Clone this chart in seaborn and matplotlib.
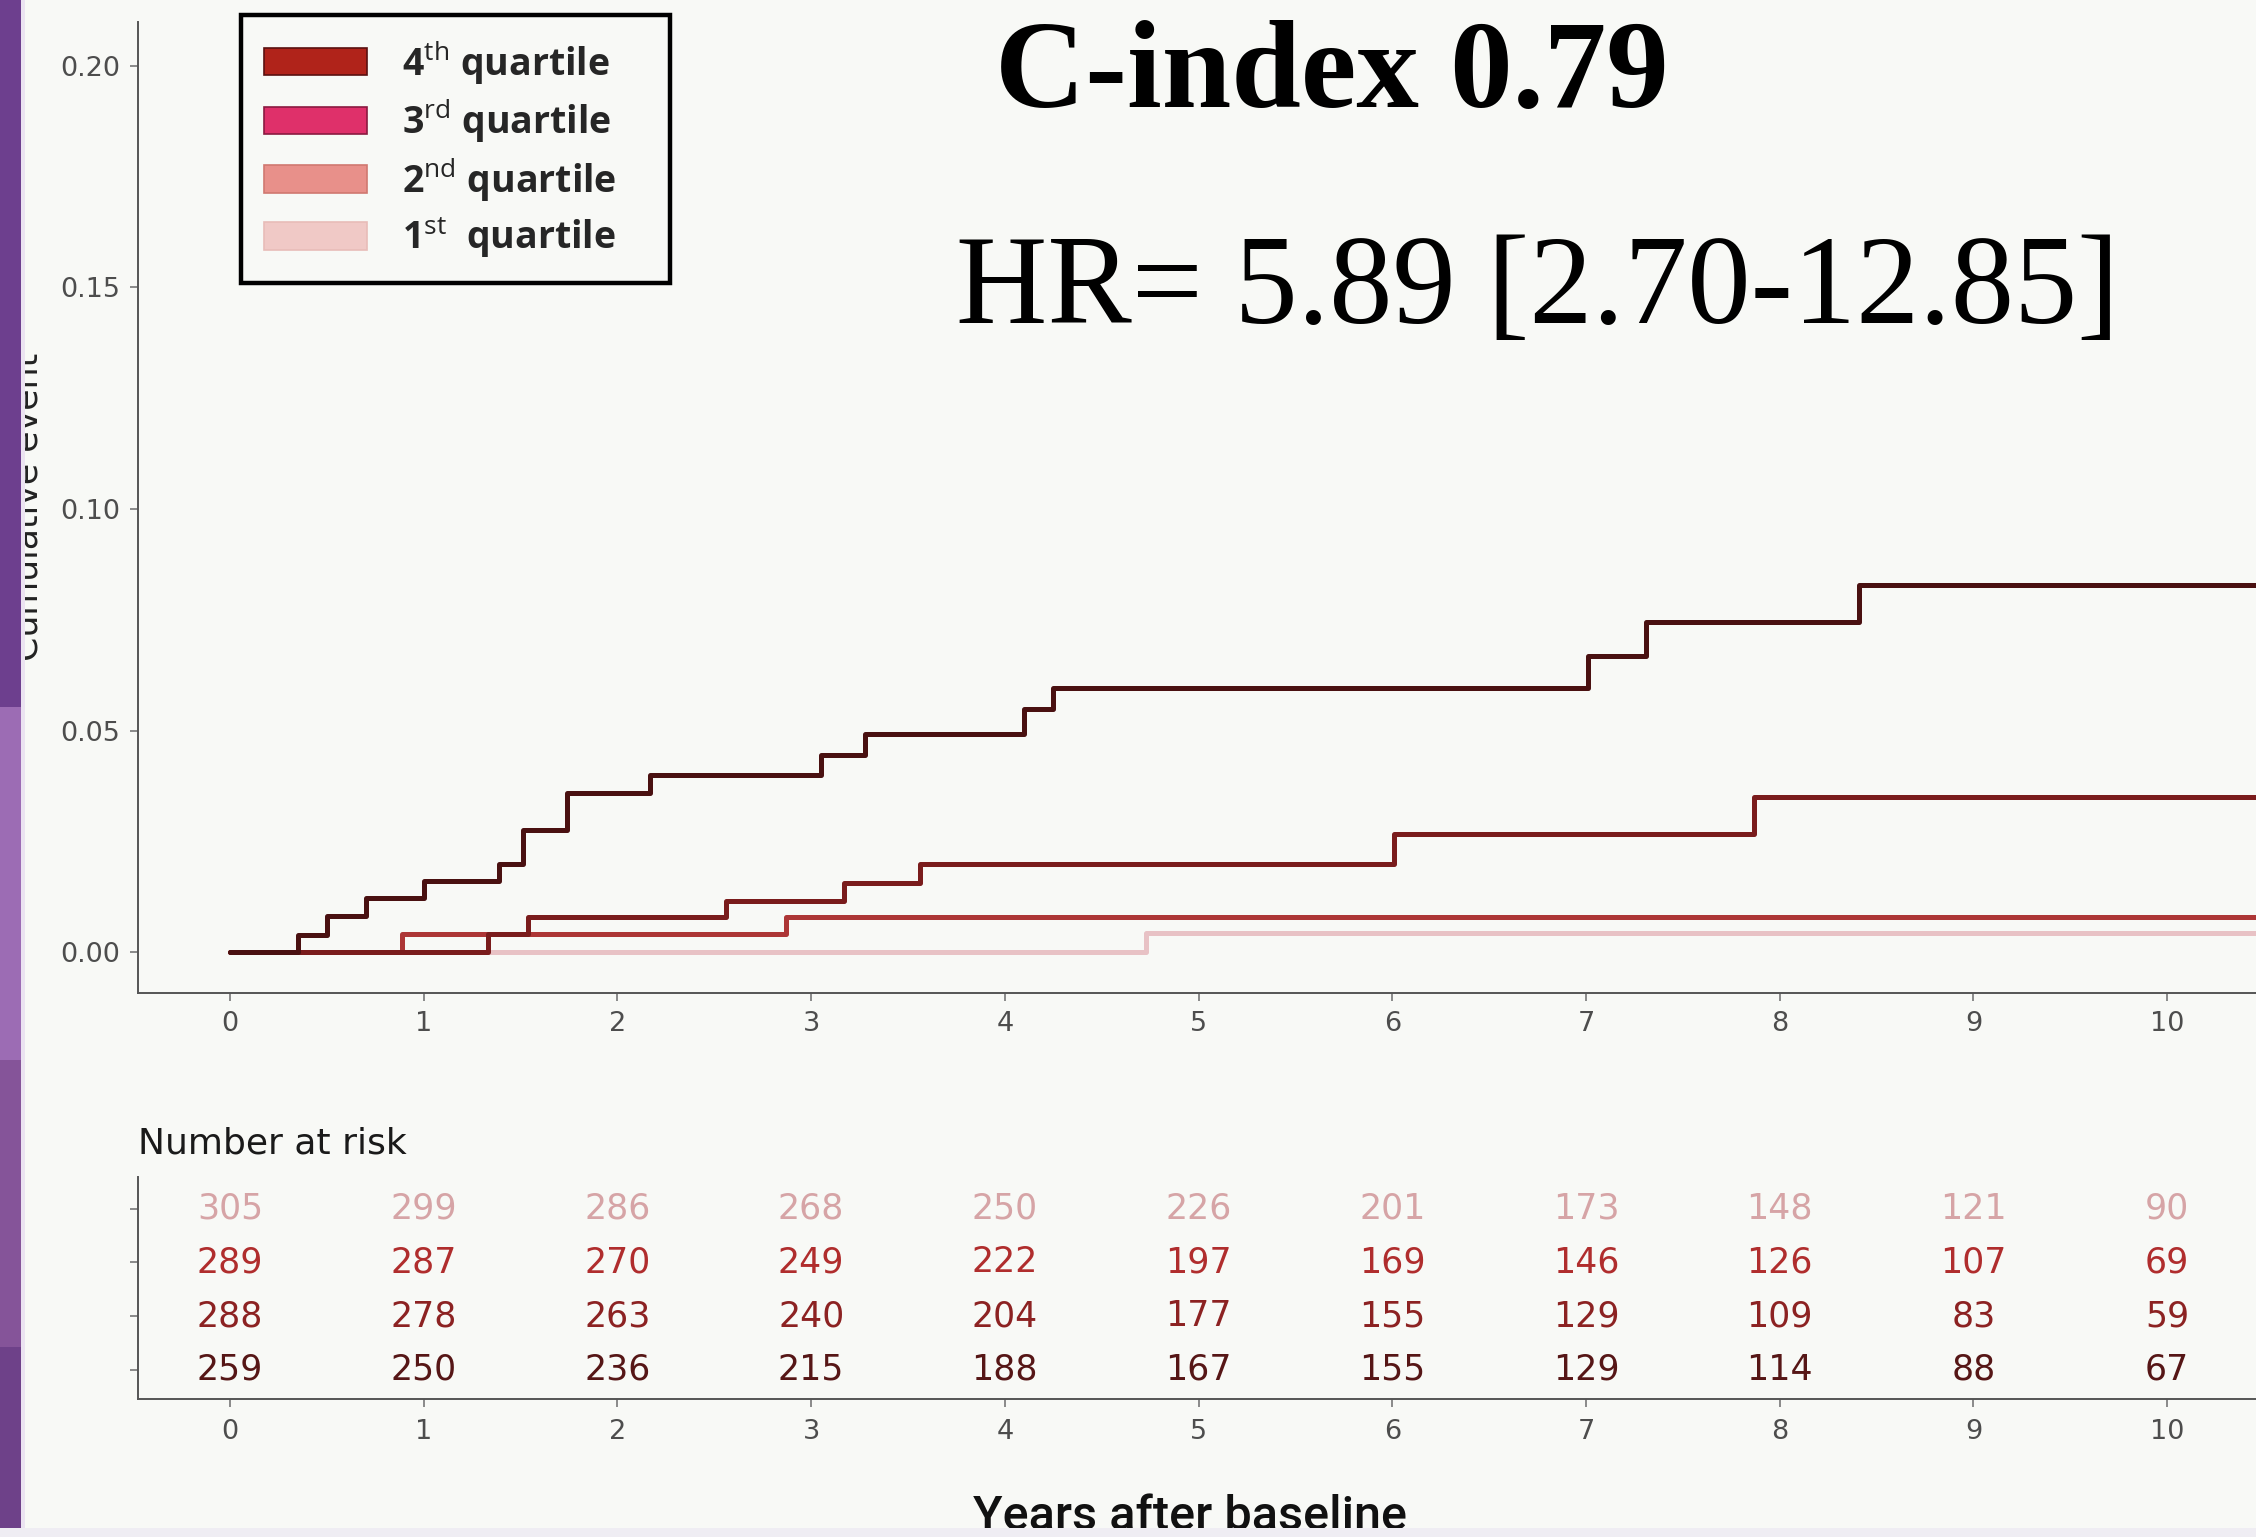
import numpy as np
import pandas as pd
import matplotlib
matplotlib.use("Agg")
import matplotlib.pyplot as plt
from matplotlib.patches import Patch, Rectangle
from matplotlib.ticker import FormatStrFormatter
import seaborn as sns

# ---------------- data ----------------
quartiles = ["1st quartile", "2nd quartile", "3rd quartile", "4th quartile"]
legend_labels = {
    "4th quartile": "4$^{\\rm th}$ quartile",
    "3rd quartile": "3$^{\\rm rd}$ quartile",
    "2nd quartile": "2$^{\\rm nd}$ quartile",
    "1st quartile": "1$^{\\rm st}$  quartile",
}

years_q4 = [0, 0.35, 0.50, 0.70, 1.00, 1.39, 1.51, 1.74, 2.17, 3.05, 3.28, 4.10, 4.25, 7.01, 7.31, 8.41]
cum_q4 = [0, 0.0040, 0.0083, 0.0122, 0.0160, 0.0199, 0.0275, 0.0360, 0.0400, 0.0446, 0.0493, 0.0548, 0.0596, 0.0668, 0.0746, 0.0828]
years_q3 = [0, 1.33, 1.54, 2.56, 3.17, 3.56, 6.01, 7.87]
cum_q3 = [0, 0.0042, 0.0079, 0.0115, 0.0156, 0.0199, 0.0266, 0.0350]
years_q2 = [0, 0.89, 2.87]
cum_q2 = [0, 0.0041, 0.0081]
years_q1 = [0, 4.73]
cum_q1 = [0, 0.0044]
follow_up_end = 10.6

risk_times = [0, 1, 2, 3, 4, 5, 6, 7, 8, 9, 10]
risk_q1 = [305, 299, 286, 268, 250, 226, 201, 173, 148, 121, 90]
risk_q2 = [289, 287, 270, 249, 222, 197, 169, 146, 126, 107, 69]
risk_q3 = [288, 278, 263, 240, 204, 177, 155, 129, 109, 83, 59]
risk_q4 = [259, 250, 236, 215, 188, 167, 155, 129, 114, 88, 67]

y_ticks = [0.00, 0.05, 0.10, 0.15, 0.20]

c_index_text = "C-index 0.79"
hr_text = "HR= 5.89 [2.70-12.85]"

# ---------------- styles ----------------
line_colors = {"4th quartile": "#4a1111", "3rd quartile": "#7a1c1c",
               "2nd quartile": "#ad3636", "1st quartile": "#e8c2c5"}
patch_colors = {"4th quartile": ("#b0231a", "#5a1010"), "3rd quartile": ("#df306a", "#8a1a40"),
                "2nd quartile": ("#e8908a", "#d07870"), "1st quartile": ("#f0c9c6", "#e8bcb8")}
risk_colors = {"1st quartile": "#d6a4a6", "2nd quartile": "#b02d2d",
               "3rd quartile": "#8c2222", "4th quartile": "#561616"}
bg = "#f8f9f6"
grey = "#4d4d4d"

sns.set_style("ticks")
plt.rcParams["font.family"] = ["DejaVu Sans"]
plt.rcParams["mathtext.fontset"] = "custom"
plt.rcParams["mathtext.rm"] = "Open Sans"

frames = []
for q, t, v in [("1st quartile", years_q1, cum_q1), ("2nd quartile", years_q2, cum_q2),
                ("3rd quartile", years_q3, cum_q3), ("4th quartile", years_q4, cum_q4)]:
    frames.append(pd.DataFrame({"years": list(t) + [follow_up_end],
                                "cum": list(v) + [v[-1]], "quartile": q}))
df = pd.concat(frames, ignore_index=True)

fig = plt.figure(figsize=(22.56, 15.37), dpi=100, facecolor=bg)
W, H = 2256.0, 1537.0
ax = fig.add_axes([138 / W, 1 - 992.8 / H, (W - 138) / W, (992.8 - 21.6) / H])
ax_t = fig.add_axes([138 / W, 1 - 1398.5 / H, (W - 138) / W, (1398.5 - 1177) / H])
for a in (ax, ax_t):
    a.set_facecolor(bg)

sns.lineplot(data=df, x="years", y="cum", hue="quartile", hue_order=quartiles,
             palette=line_colors, drawstyle="steps-post", estimator=None,
             linewidth=3.6, legend=False, ax=ax)

xlim = (-0.475, 10.459)
ax.set_xlim(*xlim)
ax.set_ylim(-0.0091, 0.2099)
ax.set_xticks(risk_times)
ax.set_yticks(y_ticks)
ax.yaxis.set_major_formatter(FormatStrFormatter("%.2f"))
ax.set_xlabel("")
ax.set_ylabel("Cumulative event", fontsize=25, color="#222222")
ax.yaxis.set_label_coords(-0.044, 0.5)
sns.despine(ax=ax)
for s in ("left", "bottom"):
    ax.spines[s].set_color("#555555")
    ax.spines[s].set_linewidth(1.4)
ax.tick_params(axis="both", colors="#777777", labelcolor=grey, labelsize=19.5,
               length=6, width=1.2, pad=7)

# legend (fixed-width box)
handles = [Patch(facecolor=patch_colors[q][0], edgecolor=patch_colors[q][1], linewidth=1.2)
           for q in quartiles[::-1]]
leg = ax.legend(handles, [legend_labels[q] for q in quartiles[::-1]],
                loc="upper left", bbox_to_anchor=(241 / W, 1 - 278 / H, 429 / W, 263 / H),
                bbox_transform=fig.transFigure, borderaxespad=0, mode="expand",
                prop={"family": "Open Sans", "weight": "bold", "size": 27},
                handlelength=2.75, handleheight=0.75, handletextpad=0.95,
                labelspacing=0.29, borderpad=0.6, fancybox=False, framealpha=1,
                facecolor=bg, edgecolor="black")
leg.get_frame().set_linewidth(3.2)

# annotation texts
fig.text(995 / W, 1 - 107 / H, c_index_text, fontsize=90, fontweight="bold",
         family="Liberation Serif", va="baseline", ha="left", color="black")
fig.text(956 / W, 1 - 323 / H, hr_text, fontsize=91, family="Liberation Serif",
         va="baseline", ha="left", color="black")

# risk table
rows = [("4th quartile", risk_q4, 1), ("3rd quartile", risk_q3, 2),
        ("2nd quartile", risk_q2, 3), ("1st quartile", risk_q1, 4)]
for q, vals, yrow in rows:
    for t, n in zip(risk_times, vals):
        ax_t.text(t, yrow, str(n), ha="center", va="center", fontsize=25,
                  color=risk_colors[q])
ax_t.set_xlim(*xlim)
ax_t.set_ylim(0.466, 4.586)
ax_t.set_xticks(risk_times)
ax_t.set_yticks([1, 2, 3, 4])
ax_t.set_yticklabels([])
sns.despine(ax=ax_t)
for s in ("left", "bottom"):
    ax_t.spines[s].set_color("#555555")
    ax_t.spines[s].set_linewidth(1.4)
ax_t.tick_params(axis="both", colors="#777777", labelcolor=grey, labelsize=19.5,
                 length=6, width=1.2, pad=9)
ax_t.text(0, 1.104, "Number at risk", transform=ax_t.transAxes, ha="left",
          va="baseline", fontsize=26, color="#1a1a1a")
ax_t.set_xlabel("Years after baseline", fontsize=35, family="Roboto",
                fontweight="medium", color="#111111")
ax_t.xaxis.set_label_coords((1190 - 138) / (W - 138), -0.43)
ax_t.xaxis.label.set_va("top")

# slide decorations (purple side bar, bottom band)
bands = [(0, 707, "#6d3f8e"), (707, 1060, "#9c6cb4"), (1060, 1347, "#855499"), (1347, 1537, "#6e4189")]
for y0, y1, c in bands:
    fig.add_artist(Rectangle((0, 1 - y1 / H), 21 / W, (y1 - y0) / H, transform=fig.transFigure,
                             facecolor=c, edgecolor="none", zorder=10))
fig.add_artist(Rectangle((21 / W, 0), 4 / W, 1, transform=fig.transFigure,
                         facecolor="#ebe3f1", edgecolor="none", zorder=10))
fig.add_artist(Rectangle((0, 0), 1, 9 / H, transform=fig.transFigure,
                         facecolor="#efedf3", edgecolor="none", zorder=10))

fig.savefig("out.png", dpi=100, facecolor=bg)
